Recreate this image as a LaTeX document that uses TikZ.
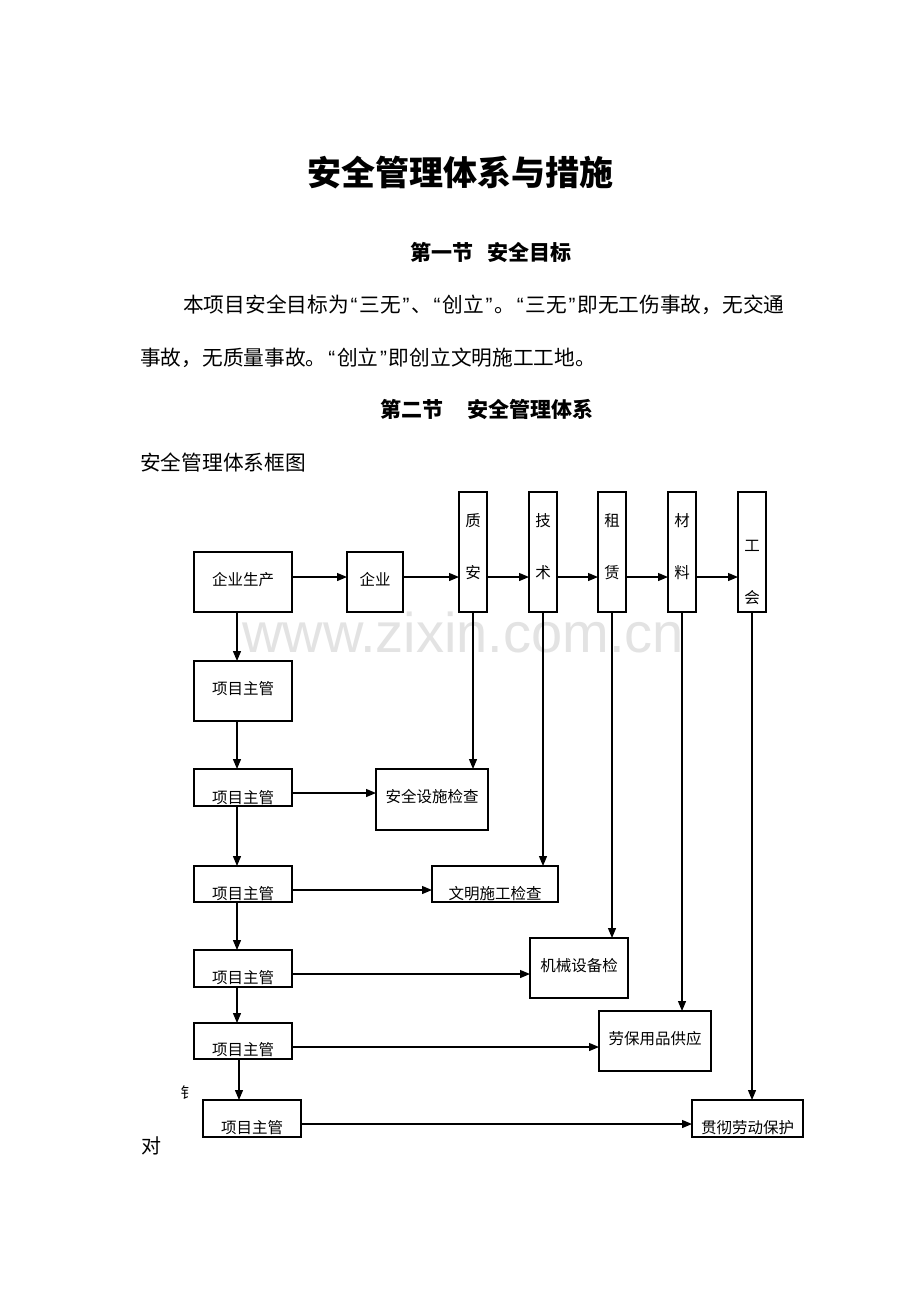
\documentclass[tikz,border=0pt]{standalone}
\usepackage{fontspec}
\usetikzlibrary{arrows.meta}
\newfontfamily\cjk{Noto Sans CJK SC}
\newfontfamily\wmfont{Liberation Sans}
\newcommand\myLQ{\makebox[10.5pt]{\wmfont “}}
\newcommand\myRQ{\makebox[10.5pt]{\wmfont ”}}
\tikzset{
  box/.style={draw=black, line width=1.2pt, fill=none, inner sep=0pt, outer sep=0pt},
  lbl/.style={font=\cjk\fontsize{15.5}{16}\selectfont, inner sep=0pt, anchor=base},
  arr/.style={line width=1.2pt, -{Triangle[length=10pt,width=8pt]}},
  txt/.style={font=\cjk\fontsize{20.7}{22}\selectfont, inner sep=0pt, anchor=base west},
  head/.style={font=\cjk\bfseries\fontsize{21}{23}\selectfont, inner sep=0pt, anchor=base west},
}
\begin{document}
\begin{tikzpicture}[x=1pt, y=-1pt]
\useasboundingbox (0,0) rectangle (920,1302);
\fill[white] (0,0) rectangle (920,1302);
% watermark
\node[font=\wmfont\fontsize{56}{56}\selectfont, text=black!11, inner sep=0pt, anchor=base west] (wmk) at (242,652) {www.zixin.com.cn};
% headings and text
\node[font=\cjk\bfseries\fontsize{34}{36}\selectfont, inner sep=0pt, anchor=base] (title) at (460,185) {安全管理体系与措施};
\node[head] (h1) at (410,260) {第一节\hspace{14pt}安全目标};
\node[txt] (p1t) at (183,312) {本项目安全目标为\myLQ 三无\myRQ 、\myLQ 创立\myRQ 。\myLQ 三无\myRQ 即无工伤事故，无交通};
\node[txt] (p2t) at (140,365) {事故，无质量事故。\myLQ 创立\myRQ 即创立文明施工工地。};
\node[head] (h2) at (380,417) {第二节\hspace{24pt}安全管理体系};
\node[txt] (cap) at (140,470) {安全管理体系框图};
% top row boxes
\node[box, minimum width=98pt, minimum height=60pt] (ep) at (243,582) {};
\node[lbl] at (243,585) {企业生产};
\node[box, minimum width=56pt, minimum height=60pt] (qy) at (375,582) {};
\node[lbl] at (375,585) {企业};
\node[box, minimum width=28pt, minimum height=120pt] (zl) at (473,552) {};
\node[lbl] at (473,526) {质};
\node[lbl] at (473,578) {安};
\node[box, minimum width=28pt, minimum height=120pt] (js) at (543,552) {};
\node[lbl] at (543,526) {技};
\node[lbl] at (543,578) {术};
\node[box, minimum width=28pt, minimum height=120pt] (zp) at (612,552) {};
\node[lbl] at (612,526) {租};
\node[lbl] at (612,578) {赁};
\node[box, minimum width=28pt, minimum height=120pt] (cl) at (682,552) {};
\node[lbl] at (682,526) {材};
\node[lbl] at (682,578) {料};
\node[box, minimum width=28pt, minimum height=120pt] (gh) at (752,552) {};
\node[lbl] at (752,551) {工};
\node[lbl] at (752,603) {会};
% left column
\node[box, minimum width=98pt, minimum height=60pt] (pa) at (243,691) {};
\node[lbl] at (243,694) {项目主管};
\node[box, minimum width=98pt, minimum height=37pt] (pb) at (243,787.5) {};
\node[lbl] at (243,803) {项目主管};
\node[box, minimum width=98pt, minimum height=36pt] (pc) at (243,884) {};
\node[lbl] at (243,899) {项目主管};
\node[box, minimum width=98pt, minimum height=37pt] (pd) at (243,968.5) {};
\node[lbl] at (243,983) {项目主管};
\node[box, minimum width=98pt, minimum height=36pt] (pe) at (243,1041) {};
\node[lbl] at (243,1055) {项目主管};
\node[box, minimum width=98pt, minimum height=37pt] (pf) at (252,1118.5) {};
\node[lbl] at (252,1133) {项目主管};
% right boxes
\node[box, minimum width=112pt, minimum height=61pt] (aq) at (432,799.5) {};
\node[lbl] at (432,802) {安全设施检查};
\node[box, minimum width=126pt, minimum height=36pt] (wm) at (495,884) {};
\node[lbl] at (495,899) {文明施工检查};
\node[box, minimum width=98pt, minimum height=60pt] (jx) at (579,968) {};
\node[lbl] at (579,971) {机械设备检};
\node[box, minimum width=112pt, minimum height=60pt] (lb) at (655,1041) {};
\node[lbl] at (655,1044) {劳保用品供应};
\node[box, minimum width=111pt, minimum height=37pt] (gc) at (747.5,1118.5) {};
\node[lbl] at (747.5,1133) {贯彻劳动保护};
% stray characters
\node[font=\cjk\fontsize{15}{16}\selectfont, inner sep=0pt] (s1) at (188,1093) {钅};
\node[font=\cjk\fontsize{20}{22}\selectfont, inner sep=0pt] (s2) at (151,1146) {对};
% helper coordinates
\coordinate (y0) at (0,577);
\coordinate (y1) at (0,793);
\coordinate (y2) at (0,890);
\coordinate (y3) at (0,974);
\coordinate (y4) at (0,1047);
\coordinate (y5) at (0,1124);
\coordinate (xl) at (237,0);
\coordinate (xm) at (239,0);
% top row arrows
\draw[arr] (ep.east |- y0) -- (qy.west |- y0);
\draw[arr] (qy.east |- y0) -- (zl.west |- y0);
\draw[arr] (zl.east |- y0) -- (js.west |- y0);
\draw[arr] (js.east |- y0) -- (zp.west |- y0);
\draw[arr] (zp.east |- y0) -- (cl.west |- y0);
\draw[arr] (cl.east |- y0) -- (gh.west |- y0);
% left column arrows
\draw[arr] (xl |- ep.south) -- (xl |- pa.north);
\draw[arr] (xl |- pa.south) -- (xl |- pb.north);
\draw[arr] (xl |- pb.south) -- (xl |- pc.north);
\draw[arr] (xl |- pc.south) -- (xl |- pd.north);
\draw[arr] (xl |- pd.south) -- (xl |- pe.north);
\draw[arr] (xm |- pe.south) -- (xm |- pf.north);
% rightward arrows
\draw[arr] (pb.east |- y1) -- (aq.west |- y1);
\draw[arr] (pc.east |- y2) -- (wm.west |- y2);
\draw[arr] (pd.east |- y3) -- (jx.west |- y3);
\draw[arr] (pe.east |- y4) -- (lb.west |- y4);
\draw[arr] (pf.east |- y5) -- (gc.west |- y5);
% downward arrows from departments
\draw[arr] (zl.south) -- (zl.south |- aq.north);
\draw[arr] (js.south) -- (js.south |- wm.north);
\draw[arr] (zp.south) -- (zp.south |- jx.north);
\draw[arr] (cl.south) -- (cl.south |- lb.north);
\draw[arr] (gh.south) -- (gh.south |- gc.north);
\end{tikzpicture}
\end{document}
